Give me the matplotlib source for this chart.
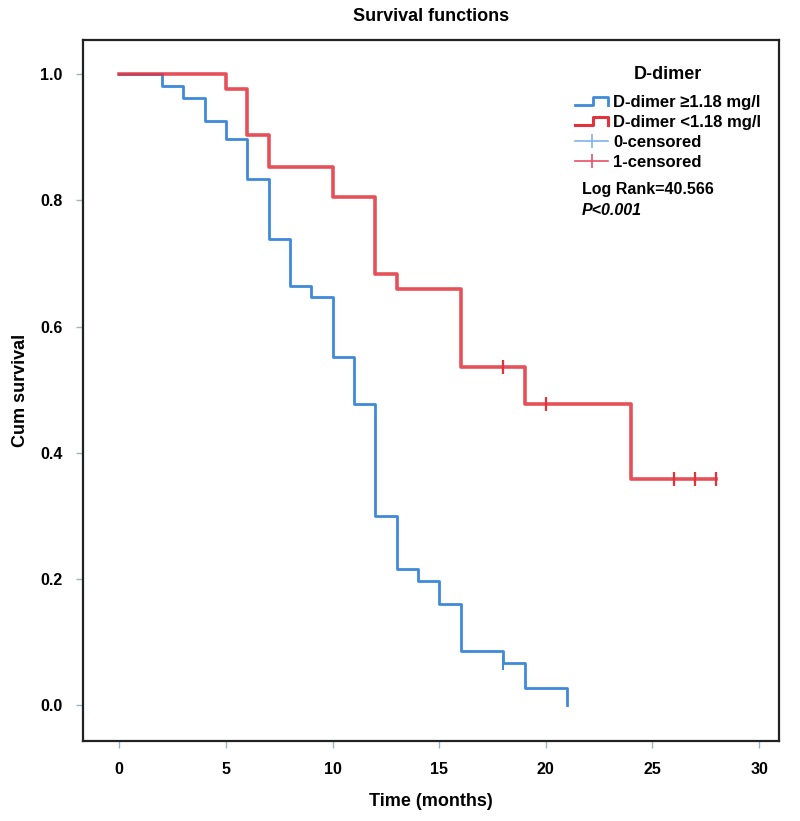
import matplotlib
matplotlib.use("Agg")
import matplotlib.pyplot as plt
from matplotlib.lines import Line2D
from matplotlib.legend_handler import HandlerBase

plt.rcParams['font.family'] = ['Liberation Sans', 'DejaVu Sans']

# Kaplan-Meier steps
high_t = [0, 2, 3, 4, 5, 6, 7, 8, 9, 10, 11, 12, 13, 14, 15, 16, 18, 19, 21]
high_s = [1.0, 0.981, 0.963, 0.926, 0.897, 0.834, 0.739, 0.664, 0.647, 0.551,
          0.477, 0.300, 0.215, 0.197, 0.160, 0.086, 0.067, 0.027, 0.0]
high_cens_t = [18]
high_cens_s = [0.067]

low_t = [0, 5, 6, 7, 10, 12, 13, 16, 19, 24, 28]
low_s = [1.0, 0.976, 0.903, 0.853, 0.805, 0.683, 0.659, 0.536, 0.477, 0.358, 0.358]
low_cens_t = [18, 20, 26, 27, 28]
low_cens_s = [0.536, 0.477, 0.358, 0.358, 0.358]

labels = ['D-dimer \u22651.18 mg/l', 'D-dimer <1.18 mg/l', '0-censored', '1-censored']
xticks = [0, 5, 10, 15, 20, 25, 30]
yticks = [0.0, 0.2, 0.4, 0.6, 0.8, 1.0]

BLUE = '#3f8ad8'
RED = '#e2323c'


class HandlerStep(HandlerBase):
    def create_artists(self, legend, orig_handle, xdescent, ydescent, width, height, fontsize, trans):
        x0, x1 = -xdescent, -xdescent + width
        ylo, yhi = -ydescent + 0.15 * height, -ydescent + 0.85 * height
        xm = x0 + 0.55 * width
        line = Line2D([x0, xm, xm, x1, x1], [ylo, ylo, yhi, yhi, ylo - 0.05 * height],
                      color=orig_handle.get_color(), lw=orig_handle.get_linewidth(),
                      transform=trans)
        return [line]


fig = plt.figure(figsize=(8.0, 8.21), dpi=100)
ax = fig.add_axes([0.104, 0.0975, 0.870, 0.8535])

ax.step(high_t, high_s, where='post', color=BLUE, lw=2.0)
ax.step(low_t, low_s, where='post', color=RED, lw=2.6, alpha=0.85)
ax.plot(high_cens_t, high_cens_s, ls='none', marker='|', ms=10, mew=1.4, color=BLUE)
ax.plot(low_cens_t, low_cens_s, ls='none', marker='|', ms=10, mew=1.6, color=RED)

ax.set_xlim(-1.69, 30.94)
ax.set_ylim(-0.057, 1.054)
ax.set_xticks(xticks)
ax.set_yticks(yticks)
ax.set_xticklabels([str(t) for t in xticks], fontweight='bold', fontsize=11.5)
ax.set_yticklabels(['%.1f' % t for t in yticks], fontweight='bold', fontsize=11.5)
ax.tick_params(length=5, width=1, color='#9db4c8', pad=10)
for sp in ax.spines.values():
    sp.set_linewidth(1.6)
    sp.set_color('#222222')

ax.set_xlabel('Time (months)', fontweight='bold', fontsize=13, labelpad=12)
ax.set_ylabel('Cum survival', fontweight='bold', fontsize=13, labelpad=8)
ax.set_title('Survival functions', fontweight='bold', fontsize=13, pad=14)

h_high = Line2D([], [], color=BLUE, lw=2.0)
h_low = Line2D([], [], color=RED, lw=2.2)
h_c0 = Line2D([], [], color='#7fb2e8', lw=1.2, marker='|', ms=10, mew=1.2)
h_c1 = Line2D([], [], color='#e8506a', lw=1.2, marker='|', ms=10, mew=1.2)
leg = ax.legend([h_high, h_low, h_c0, h_c1], labels,
                handler_map={h_high: HandlerStep(), h_low: HandlerStep()},
                title='D-dimer', loc='upper left', bbox_to_anchor=(0.685, 0.984),
                frameon=False, handlelength=2.0, handletextpad=0.3,
                labelspacing=0.3, prop={'weight': 'bold', 'size': 12},
                title_fontproperties={'weight': 'bold', 'size': 13})
leg._legend_box.sep = 8

ax.text(0.716, 0.787, 'Log Rank=40.566', transform=ax.transAxes,
        fontweight='bold', fontsize=11.5, va='center')
ax.text(0.716, 0.757, 'P<0.001', transform=ax.transAxes,
        fontweight='bold', fontstyle='italic', fontsize=11.5, va='center')

fig.savefig('out.png', dpi=100)
